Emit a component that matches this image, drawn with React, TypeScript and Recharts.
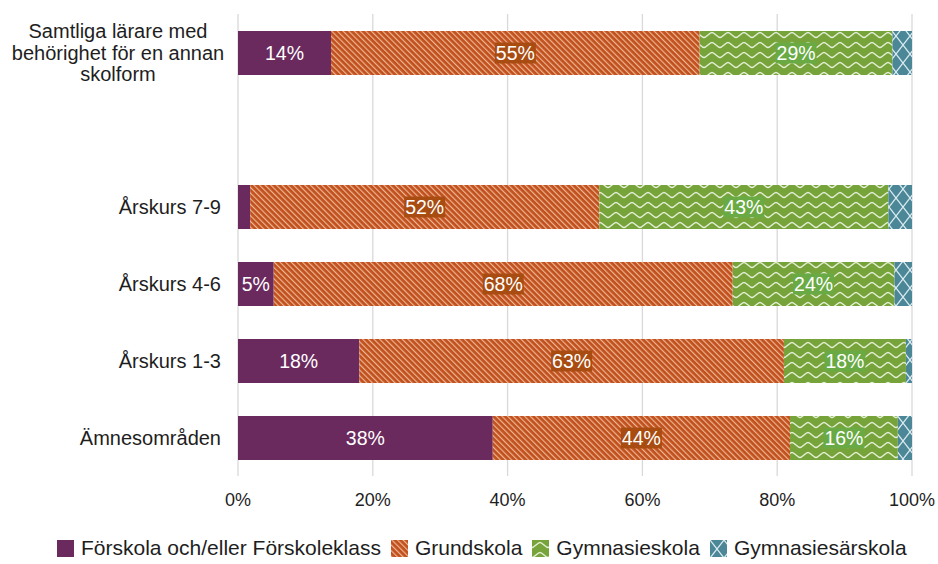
import React from 'react';
import { BarChart, Bar, XAxis, YAxis, CartesianGrid, Legend, LabelList } from 'recharts';

const categories = [
  'Samtliga lärare med\nbehörighet för en annan\nskolform',
  '',
  'Årskurs 7-9',
  'Årskurs 4-6',
  'Årskurs 1-3',
  'Ämnesområden',
];
const forskola = [13.8, null, 1.8, 5.3, 18.0, 37.8];
const grundskola = [54.7, null, 51.8, 68.1, 63.0, 44.1];
const gymnasieskola = [28.6, null, 42.9, 24.0, 18.1, 16.0];
const gymnasiesarskola = [2.9, null, 3.5, 2.6, 0.9, 2.1];
const xTicks = [0, 20, 40, 60, 80, 100];
const seriesNames = ['Förskola och/eller Förskoleklass', 'Grundskola', 'Gymnasieskola', 'Gymnasiesärskola'];

const data = categories.map((c, i) => ({
  name: c,
  f: forskola[i],
  g: grundskola[i],
  gy: gymnasieskola[i],
  gs: gymnasiesarskola[i],
}));

const FONT = '"Liberation Sans", Arial, sans-serif';
const TEXT = '#1e1e1e';

const fills = ['#6a2a5e', 'url(#pOrange)', 'url(#pGreen)', 'url(#pTeal)'];

const Patterns = () => (
  <svg width={0} height={0} style={{ position: 'absolute' }}>
    <defs>
      <pattern id="pOrange" width="4" height="4" patternUnits="userSpaceOnUse" patternTransform="rotate(-45)">
        <rect width="4" height="4" fill="#c0501c" />
        <rect x="0" y="0" width="1.2" height="4" fill="#eeb595" />
      </pattern>
      <pattern id="pGreen" width="16" height="10" patternUnits="userSpaceOnUse">
        <rect width="16" height="10" fill="#77a43a" />
        <path d="M0 7.5 C2.5 7.5 5.5 2.5 8 2.5 C10.5 2.5 13.5 7.5 16 7.5" stroke="#e4efd6" strokeWidth="1.4" fill="none" />
      </pattern>
      <pattern id="pTeal" width="14" height="18" patternUnits="userSpaceOnUse">
        <rect width="14" height="18" fill="#4b8797" />
        <path d="M0 0 L14 18 M14 0 L0 18" stroke="#d9ebf0" strokeWidth="1.3" fill="none" />
      </pattern>
    </defs>
  </svg>
);

const YTick = (props: any) => {
  const { x, y, payload } = props;
  const v: string = payload.value || '';
  if (!v) return null;
  const lines = v.split('\n');
  if (lines.length === 1) {
    return (
      <text x={x} y={y} dy={7} textAnchor="end" fontSize={20} fill={TEXT} fontFamily={FONT}>
        {v}
      </text>
    );
  }
  const lh = 21.5;
  const start = -((lines.length - 1) * lh) / 2;
  return (
    <text x={x - 103} y={y} textAnchor="middle" fontSize={20} fill={TEXT} fontFamily={FONT}>
      {lines.map((l, i) => (
        <tspan key={i} x={x - 103} y={y + start + i * lh} dy={7}>
          {l}
        </tspan>
      ))}
    </text>
  );
};

const makeLabel = (bg: string | null) => (props: any) => {
  const { x, y, width, height, value } = props;
  if (value == null || value < 4) return null;
  const txt = Math.round(value) + '%';
  const cx = x + width / 2;
  const cy = y + height / 2;
  const tw = ((txt.length - 1) * 556 + 889) * 0.0195 + 2;
  return (
    <g>
      {bg && <rect x={cx - tw / 2} y={cy - 10.5} width={tw} height={21} fill={bg} />}
      <text x={cx} y={cy} dy={7} textAnchor="middle" fontSize={19.5} fill="#ffffff" fontFamily={FONT}>
        {txt}
      </text>
    </g>
  );
};

const LegendContent = () => (
  <div
    style={{
      height: 50,
      display: 'flex',
      alignItems: 'flex-start',
      paddingLeft: 57,
      paddingTop: 24,
      fontFamily: FONT,
      fontSize: 21,
      color: TEXT,
      boxSizing: 'border-box',
    }}
  >
    {seriesNames.map((n, i) => (
      <div key={n} style={{ display: 'flex', alignItems: 'center', marginRight: 10, height: 20 }}>
        <svg width={17} height={17} style={{ marginRight: 7 }}>
          <rect width={17} height={17} fill={fills[i]} />
        </svg>
        <span style={{ lineHeight: '20px', whiteSpace: 'nowrap' }}>{n}</span>
      </div>
    ))}
  </div>
);

export default function App() {
  return (
    <div style={{ position: 'absolute', left: 0, top: 0, width: 938, height: 564, background: '#fff' }}>
      <Patterns />
      <BarChart
        width={938}
        height={564}
        data={data}
        layout="vertical"
        margin={{ top: 14, right: 26, left: 0, bottom: 0 }}
        barSize={44}
      >
        <CartesianGrid horizontal={false} stroke="#d9d9d9" strokeWidth={1.3} />
        <XAxis
          type="number"
          domain={[0, 100]}
          ticks={xTicks}
          tickFormatter={(v: number) => v + '%'}
          axisLine={false}
          tickLine={false}
          tickSize={6}
          tickMargin={11}
          height={38}
          tick={{ fontSize: 18, fill: TEXT, fontFamily: FONT }}
          interval={0}
        />
        <YAxis
          type="category"
          dataKey="name"
          width={238}
          axisLine={false}
          tickLine={false}
          tickSize={6}
          tickMargin={11}
          interval={0}
          tick={<YTick />}
        />
        <Legend verticalAlign="bottom" content={<LegendContent />} wrapperStyle={{ left: 0, width: 938, height: 50 }} />
        <Bar dataKey="f" stackId="a" fill={fills[0]} isAnimationActive={false} name={seriesNames[0]}>
          <LabelList dataKey="f" content={makeLabel(null)} />
        </Bar>
        <Bar dataKey="g" stackId="a" fill={fills[1]} isAnimationActive={false} name={seriesNames[1]}>
          <LabelList dataKey="g" content={makeLabel('#a94c12')} />
        </Bar>
        <Bar dataKey="gy" stackId="a" fill={fills[2]} isAnimationActive={false} name={seriesNames[2]}>
          <LabelList dataKey="gy" content={makeLabel('#6aaa44')} />
        </Bar>
        <Bar dataKey="gs" stackId="a" fill={fills[3]} isAnimationActive={false} name={seriesNames[3]} />
      </BarChart>
    </div>
  );
}
